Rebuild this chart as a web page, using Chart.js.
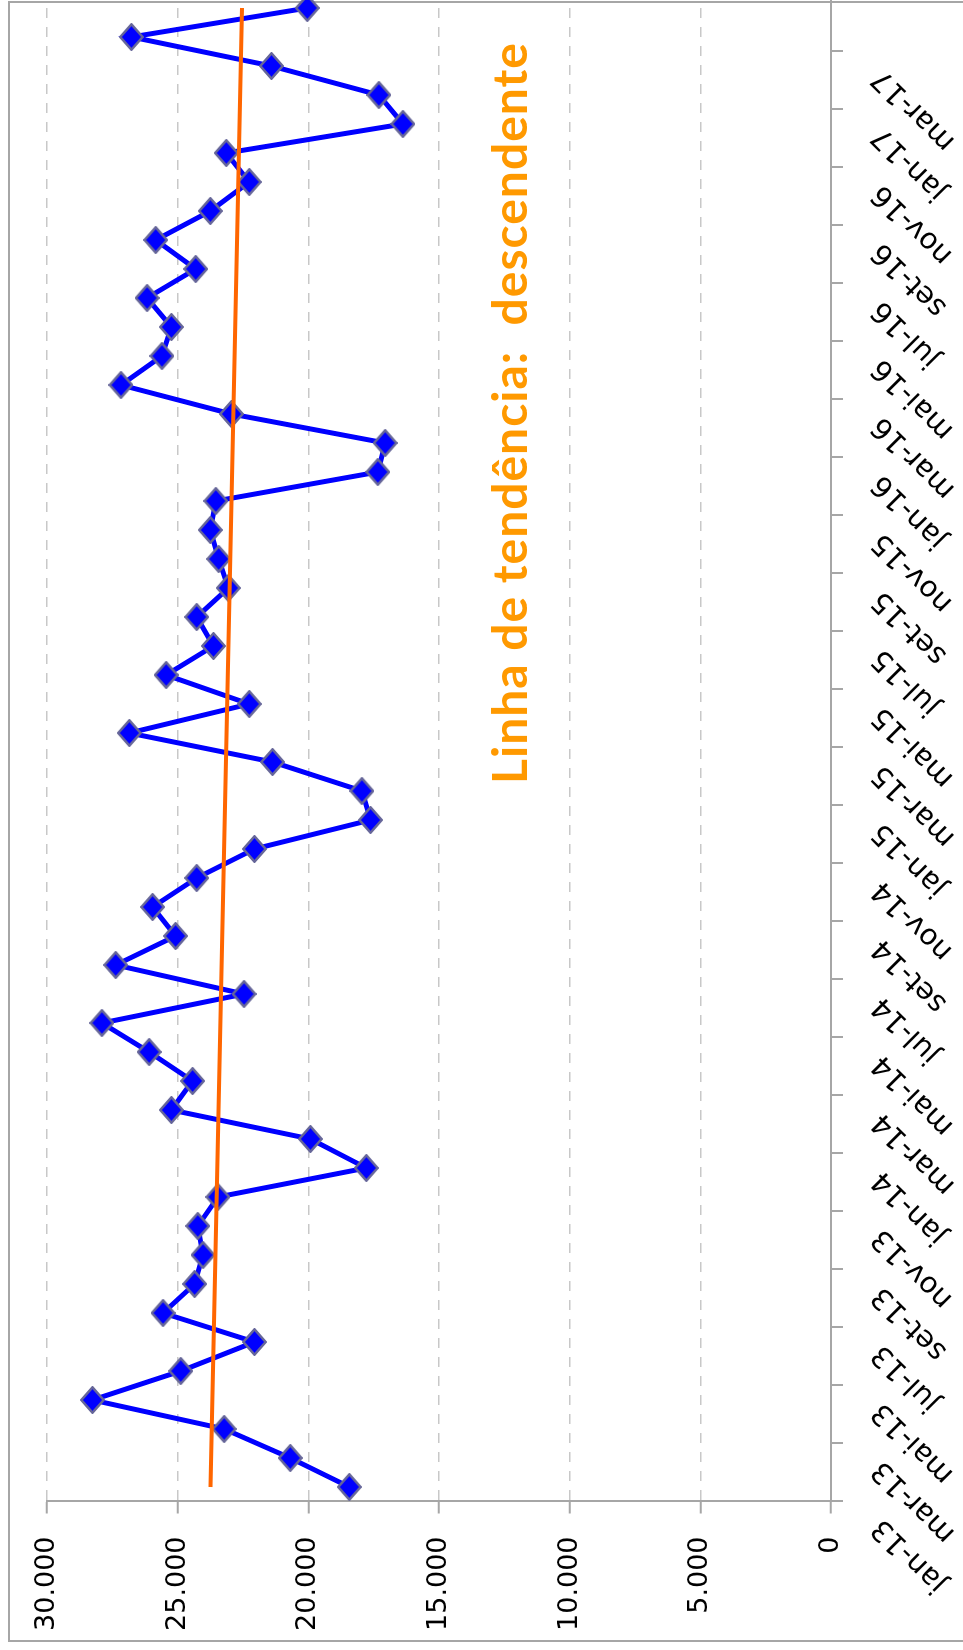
<!DOCTYPE html>
<html><head><meta charset="utf-8">
<script src="https://cdn.jsdelivr.net/npm/chart.js@4.4.1/dist/chart.umd.min.js"></script>
<style>
html,body{margin:0;padding:0;background:#fff;overflow:hidden;width:963px;height:1650px;}
#wrap{position:absolute;left:0;top:0;width:1680px;height:963px;transform-origin:0 0;transform:translate(0px,1650px) rotate(-90deg);}
#frame{position:absolute;left:8px;top:8px;width:1641px;height:1100px;border:2px solid #a6a6a6;box-sizing:border-box;}
canvas{position:absolute;left:0;top:0;}
</style></head><body>
<div id="wrap"><div id="frame"></div><canvas id="c" width="1680" height="963"></canvas></div>
<script>
const categories = [
 'jan-13','fev-13','mar-13','abr-13','mai-13','jun-13','jul-13','ago-13','set-13','out-13','nov-13','dez-13',
 'jan-14','fev-14','mar-14','abr-14','mai-14','jun-14','jul-14','ago-14','set-14','out-14','nov-14','dez-14',
 'jan-15','fev-15','mar-15','abr-15','mai-15','jun-15','jul-15','ago-15','set-15','out-15','nov-15','dez-15',
 'jan-16','fev-16','mar-16','abr-16','mai-16','jun-16','jul-16','ago-16','set-16','out-16','nov-16','dez-16',
 'jan-17','fev-17','mar-17','abr-17'
];
const values = [
 18430, 20690, 23220, 28260, 24880, 22060, 25560, 24350, 24030, 24230, 23460, 17780,
 19920, 25240, 24430, 26090, 27900, 22460, 27370, 25080, 25960, 24270, 22060, 17620,
 17950, 21370, 26850, 22260, 25440, 23630, 24270, 23060, 23430, 23750, 23540, 17340,
 17060, 22940, 27170, 25600, 25240, 26170, 24310, 25840, 23750, 22260, 23140, 16380,
 17300, 21410, 26770, 20040
];
const trendStart = 23740;
const trendEnd = 22540;
const yTicks = [0, 5000, 10000, 15000, 20000, 25000, 30000];
const annotationText = 'Linha de tendência:  descendente';

const trendData = categories.map((c, i) => i === 0 ? trendStart : (i === categories.length - 1 ? trendEnd : null));

function fmt(v){ return String(v).replace(/\B(?=(\d{3})+(?!\d))/g, '.'); }

function diamond(){
  const w = 28, h = 25;
  const cv = document.createElement('canvas'); cv.width = w; cv.height = h;
  const g = cv.getContext('2d');
  g.beginPath(); g.moveTo(1.3, h/2); g.lineTo(w/2, 1.3); g.lineTo(w-1.3, h/2); g.lineTo(w/2, h-1.3); g.closePath();
  g.fillStyle = '#0000FF'; g.fill();
  g.lineWidth = 2.4; g.strokeStyle = '#666699'; g.stroke();
  return cv;
}

const annot = {
  id: 'annot',
  afterDraw(chart){
    const c = chart.ctx; c.save();
    c.font = 'bold 48px Lato';
    try { c.letterSpacing = '1px'; } catch(e) {}
    c.fillStyle = '#FF9900';
    c.textBaseline = 'alphabetic';
    c.fillText(annotationText, 866, 527);
    c.restore();
  }
};

const chart = new Chart(document.getElementById('c'), {
  type: 'line',
  data: {
    labels: categories,
    datasets: [
      { label: 'Tendência', data: trendData, spanGaps: true, borderColor: '#FF6600', borderWidth: 4, pointRadius: 0, tension: 0, order: 0, fill: false },
      { label: 'Série', data: values, borderColor: '#0000FF', borderWidth: 5, pointStyle: diamond(), pointRadius: 12, tension: 0, order: 1, fill: false }
    ]
  },
  options: {
    responsive: false, animation: false, devicePixelRatio: 1,
    layout: { padding: { left: 0, right: 23.5, top: 47, bottom: 0 } },
    plugins: { legend: { display: false }, tooltip: { enabled: false } },
    scales: {
      x: {
        type: 'category', offset: true,
        grid: { offset: true, drawOnChartArea: false, drawTicks: true, tickLength: 12, lineWidth: 2,
                color: (ctx) => (ctx.index !== undefined && ctx.index % 2 === 0) ? '#a6a6a6' : 'rgba(0,0,0,0)' },
        border: { display: true, color: '#a6a6a6', width: 2 },
        ticks: { autoSkip: false, maxRotation: 45, minRotation: 45, padding: 22, labelOffset: -36, color: '#000',
                 font: { family: 'DejaVu Sans', size: 29 },
                 callback: (v, i) => i % 2 === 0 ? categories[i] : '' },
        afterFit: (s) => { s.height = 132; s.paddingLeft = 0; s.paddingRight = 0; }
      },
      y: {
        min: yTicks[0], max: yTicks[yTicks.length - 1],
        afterBuildTicks: (s) => { s.ticks = yTicks.map(v => ({ value: v })); },
        ticks: { padding: 23, color: '#000', font: { family: 'DejaVu Sans', size: 27 }, callback: (v) => fmt(v) },
        grid: { color: '#c8c8c8', lineWidth: 1.5, tickLength: 12, tickColor: '#a6a6a6', tickWidth: 2, tickBorderDash: [] },
        border: { display: true, color: '#a6a6a6', width: 2, dash: [10, 9] },
        afterFit: (s) => { s.width = 148.5; s.paddingTop = 0; s.paddingBottom = 0; }
      }
    }
  },
  plugins: [annot]
});
if (document.fonts && document.fonts.ready) { document.fonts.ready.then(() => chart.draw()); }
</script>
</body></html>
